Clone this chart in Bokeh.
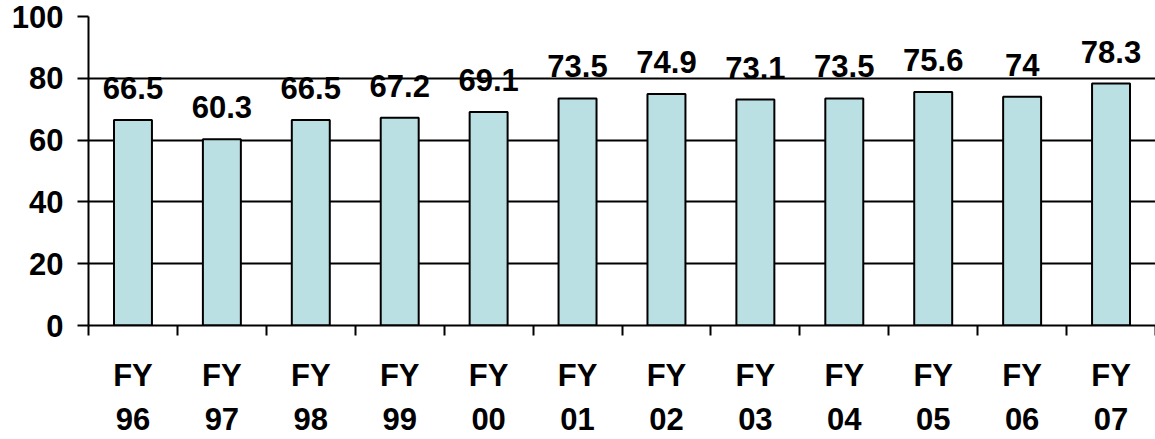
from bokeh.plotting import figure
from bokeh.models import ColumnDataSource, FixedTicker, Range1d
from bokeh.core.properties import value
from bokeh.embed import file_html
from bokeh.resources import INLINE

years = ["96", "97", "98", "99", "00", "01", "02", "03", "04", "05", "06", "07"]
values = [66.5, 60.3, 66.5, 67.2, 69.1, 73.5, 74.9, 73.1, 73.5, 75.6, 74, 78.3]
value_labels = ["66.5", "60.3", "66.5", "67.2", "69.1", "73.5", "74.9", "73.1", "73.5", "75.6", "74", "78.3"]
y_ticks = [0, 20, 40, 60, 80, 100]

FONT = "Liberation Sans"
BAR_COLOR = "#BBE0E3"

xs = [i + 0.5 for i in range(len(years))]
src = ColumnDataSource(dict(x=xs, top=values, label=value_labels))

p = figure(width=1155, height=439, output_backend="svg", toolbar_location=None,
           x_range=Range1d(0, 12), y_range=Range1d(0, 100),
           min_border_left=88, min_border_right=0, min_border_top=16, min_border_bottom=113)
p.outline_line_color = None
p.background_fill_color = "white"
p.border_fill_color = "white"

p.vbar(x="x", top="top", width=0.427, bottom=0, source=src,
       fill_color=BAR_COLOR, line_color="black", line_width=2)

p.text(x="x", y="top", text="label", source=src, y_offset=-32,
       text_font=value(FONT), text_font_style="bold", text_font_size="31px",
       text_align="center", text_baseline="alphabetic", text_color="black")

# Y axis
p.yaxis.ticker = FixedTicker(ticks=y_ticks)
p.yaxis.minor_tick_line_color = None
p.yaxis.major_tick_in = 0
p.yaxis.major_tick_out = 11
p.yaxis.major_tick_line_width = 2
p.yaxis.axis_line_width = 2
p.yaxis.major_label_standoff = 14
p.yaxis.major_label_text_font = FONT
p.yaxis.major_label_text_font_style = "bold"
p.yaxis.major_label_text_font_size = "31px"
p.yaxis.major_label_text_color = "black"

p.ygrid.ticker = FixedTicker(ticks=y_ticks)
p.ygrid.grid_line_color = "black"
p.ygrid.grid_line_width = 2
p.xgrid.grid_line_color = None

# X axis: labels at category centers, ticks at category boundaries
p.xaxis.ticker = FixedTicker(ticks=xs, minor_ticks=list(range(len(years) + 1)))
p.xaxis.major_label_overrides = {x: "FY\n" + y for x, y in zip(xs, years)}
p.xaxis.major_tick_in = 0
p.xaxis.major_tick_out = 0
p.xaxis.minor_tick_in = 0
p.xaxis.minor_tick_out = 10
p.xaxis.minor_tick_line_width = 2
p.xaxis.minor_tick_line_color = "black"
p.xaxis.axis_line_width = 2
p.xaxis.major_label_standoff = 22
p.xaxis.major_label_text_font = FONT
p.xaxis.major_label_text_font_style = "bold"
p.xaxis.major_label_text_font_size = "31px"
p.xaxis.major_label_text_line_height = 1.26
p.xaxis.major_label_text_color = "black"

open("out.html", "w").write(file_html(p, INLINE))
